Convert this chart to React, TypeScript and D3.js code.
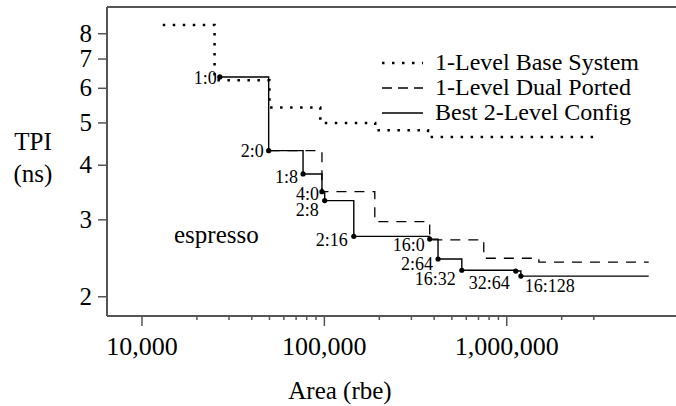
import React from "react";
import * as d3 from "d3";

// 1-Level Base System (dotted)
const baseArea = [13000, 25000, 50000, 95000, 190000, 370000, 3000000];
const baseTpi = [8.38, 6.26, 5.42, 5.0, 4.81, 4.64, 4.64];

// 1-Level Dual Ported (dashed)
const dualArea = [50000, 97000, 189000, 378000, 748000, 1500000, 6000000];
const dualTpi = [4.32, 3.48, 2.97, 2.7, 2.45, 2.4, 2.4];

// Best 2-Level Config (solid, labelled points)
const bestLabels = ["1:0", "2:0", "1:8", "4:0", "2:8", "2:16", "16:0", "2:64", "16:32", "32:64", "16:128"];
const bestArea = [26700, 49500, 76400, 97000, 100400, 145000, 378000, 420000, 567000, 1120000, 1195000];
const bestTpi = [6.37, 4.32, 3.82, 3.48, 3.32, 2.75, 2.71, 2.44, 2.3, 2.29, 2.23];
const bestEndArea = 6000000;

const yTicks = [2, 3, 4, 5, 6, 7, 8];
const xMajor = [10000, 100000, 1000000];
const xMinor = [
  20000, 30000, 40000, 50000, 60000, 70000, 80000, 90000,
  200000, 300000, 400000, 500000, 600000, 700000, 800000, 900000,
  2000000, 3000000,
];
const legendNames = ["1-Level Base System", "1-Level Dual Ported", "Best 2-Level Config"];

// label placement relative to each point: [dx, dy, anchor]
const labelPos: [number, number, string][] = [
  [-3, 7, "end"], [-5, 6, "end"], [-5, 9, "end"], [-3, 8, "end"], [-6, 15, "end"],
  [-6, 10, "end"], [-5, 12, "end"], [-5, 11, "end"], [-6, 15, "end"], [-6, 18, "end"],
  [4, 16, "start"],
];

const W = 676;
const H = 406;
const left = 107, right = 676, top = 7, bottom = 316;
const font = "'Liberation Serif', 'Times New Roman', serif";

export default function App() {
  const x = d3.scaleLog().domain([6430, 8.47e6]).range([left, right]);
  const y = d3.scaleLog().domain([1.807, 9.21]).range([bottom, top]);

  const step = d3
    .line<[number, number]>()
    .x((d) => x(d[0]))
    .y((d) => y(d[1]))
    .curve(d3.curveStepAfter);

  const basePts = baseArea.map((a, i) => [a, baseTpi[i]] as [number, number]);
  const dualPts = dualArea.map((a, i) => [a, dualTpi[i]] as [number, number]);
  const bestPts = bestArea.map((a, i) => [a, bestTpi[i]] as [number, number]);
  bestPts.push([bestEndArea, bestTpi[bestTpi.length - 1]]);

  const axisColor = "#555";
  const styles = [
    { dash: "2.5 7.5", width: 2.5 },
    { dash: "10 8", width: 1.3 },
    { dash: "", width: 1.4 },
  ];

  return (
    <svg width={W} height={H} style={{ position: "absolute", left: 0, top: 0, background: "#fff" }} fontFamily={font}>
      {/* frame */}
      <line x1={left} x2={right} y1={top} y2={top} stroke={axisColor} strokeWidth={2} />
      <line x1={left} x2={left} y1={top} y2={bottom} stroke={axisColor} strokeWidth={2} />
      <line x1={left} x2={right} y1={bottom} y2={bottom} stroke={axisColor} strokeWidth={2} />

      {/* y axis */}
      {yTicks.map((t) => (
        <g key={t}>
          <line x1={left - 9} x2={left} y1={y(t)} y2={y(t)} stroke={axisColor} strokeWidth={1.5} />
          <text x={left - 15} y={y(t) + 8} textAnchor="end" fontSize={25}>
            {t}
          </text>
        </g>
      ))}

      {/* x axis */}
      {xMinor.map((t) => (
        <line key={t} x1={x(t)} x2={x(t)} y1={bottom} y2={bottom + 4} stroke={axisColor} strokeWidth={1.5} />
      ))}
      {xMajor.map((t) => (
        <g key={t}>
          <line x1={x(t)} x2={x(t)} y1={bottom} y2={bottom + 10} stroke={axisColor} strokeWidth={1.5} />
          <text x={x(t)} y={355} textAnchor="middle" fontSize={26}>
            {d3.format(",")(t)}
          </text>
        </g>
      ))}

      <text x={340} y={399} textAnchor="middle" fontSize={25}>Area (rbe)</text>
      <text x={33} y={150} textAnchor="middle" fontSize={25}>TPI</text>
      <text x={33} y={182} textAnchor="middle" fontSize={25}>(ns)</text>
      <text x={174} y={243} fontSize={25}>espresso</text>

      {/* series */}
      <path d={step(basePts) || ""} fill="none" stroke="#000" strokeWidth={styles[0].width} strokeDasharray={styles[0].dash} />
      <path d={step(dualPts) || ""} fill="none" stroke="#000" strokeWidth={styles[1].width} strokeDasharray={styles[1].dash} />
      <path d={step(bestPts) || ""} fill="none" stroke="#000" strokeWidth={styles[2].width} />

      {bestArea.map((a, i) => (
        <g key={bestLabels[i]}>
          <circle cx={x(a)} cy={y(bestTpi[i])} r={2.6} fill="#000" />
          <text
            x={x(a) + labelPos[i][0]}
            y={y(bestTpi[i]) + labelPos[i][1]}
            textAnchor={labelPos[i][2]}
            fontSize={18}
          >
            {bestLabels[i]}
          </text>
        </g>
      ))}

      {/* legend */}
      {legendNames.map((name, i) => (
        <g key={name} transform={`translate(0, ${63 + i * 25})`}>
          <line x1={382} x2={423} y1={0} y2={0} stroke="#000" strokeWidth={styles[i].width} strokeDasharray={i === 1 ? "10 6" : styles[i].dash} />
          <text x={435} y={7} fontSize={24}>{name}</text>
        </g>
      ))}
    </svg>
  );
}
